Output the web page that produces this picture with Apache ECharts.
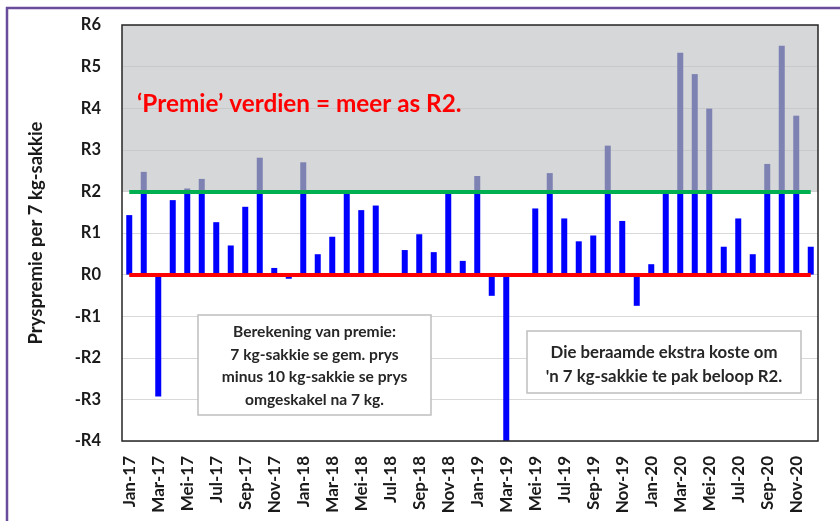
<!DOCTYPE html>
<html>
<head>
<meta charset="utf-8">
<script src="https://cdn.jsdelivr.net/npm/echarts@6/dist/echarts.min.js"></script>
<style>
html,body{margin:0;padding:0;background:#fff;}
#chart{width:840px;height:521px;}
</style>
</head>
<body>
<div id="chart"></div>
<script>
const months = ['Jan-17','Feb-17','Mar-17','Apr-17','Mei-17','Jun-17','Jul-17','Aug-17','Sep-17','Okt-17','Nov-17','Des-17',
  'Jan-18','Feb-18','Mar-18','Apr-18','Mei-18','Jun-18','Jul-18','Aug-18','Sep-18','Okt-18','Nov-18','Des-18',
  'Jan-19','Feb-19','Mar-19','Apr-19','Mei-19','Jun-19','Jul-19','Aug-19','Sep-19','Okt-19','Nov-19','Des-19',
  'Jan-20','Feb-20','Mar-20','Apr-20','Mei-20','Jun-20','Jul-20','Aug-20','Sep-20','Okt-20','Nov-20','Des-20'];
const premium = [1.43,2.47,-2.93,1.79,2.07,2.30,1.26,0.70,1.63,2.81,0.16,-0.10,
  2.70,0.49,0.91,1.94,1.55,1.66,null,0.59,0.97,0.54,1.97,0.33,
  2.37,-0.51,-4.00,null,1.59,2.44,1.35,0.80,0.94,3.10,1.29,-0.75,
  0.25,1.97,5.33,4.82,3.99,0.67,1.35,0.49,2.66,5.50,3.82,0.67];
const threshold = 2;
const yTicks = [-4,-3,-2,-1,0,1,2,3,4,5,6];
const headline = '‘Premie’ verdien = meer as R2.';
const note1 = ['Berekening van premie:','7 kg-sakkie se gem. prys','minus 10 kg-sakkie se prys','omgeskakel na 7 kg.'];
const note2 = ['Die beraamde ekstra koste om',"'n 7 kg-sakkie te pak beloop R2."];

const baseVals = premium.map(v => v === null ? null : Math.min(v, threshold));
const excessVals = premium.map(v => v === null ? null : (v > threshold ? +(v - threshold).toFixed(2) : 0));

const FONT = 'Lato';
const chart = echarts.init(document.getElementById('chart'), null, {renderer:'canvas'});
chart.setOption({
  animation:false,
  backgroundColor:'#fff',
  textStyle:{fontFamily:FONT},
  grid:{left:122,right:22,top:25,bottom:80,containLabel:false},
  xAxis:{
    type:'category', data:months, boundaryGap:true,
    axisLine:{show:false}, axisTick:{show:false},
    axisLabel:{rotate:90, interval:1, margin:15, fontFamily:FONT, fontWeight:'bold', fontSize:17, color:'#1a1a1a'},
    splitLine:{show:false}
  },
  yAxis:{
    type:'value', min:yTicks[0], max:yTicks[yTicks.length-1], interval:1,
    name:'Pryspremie per 7 kg-sakkie', nameLocation:'middle', nameGap:76, nameRotate:90,
    nameTextStyle:{fontFamily:FONT, fontWeight:'bold', fontSize:18.5, color:'#1a1a1a'},
    axisLine:{show:false}, axisTick:{show:false},
    axisLabel:{margin:21, fontFamily:FONT, fontWeight:'bold', fontSize:16.5, color:'#1a1a1a',
      formatter:v => v < 0 ? '-R' + (-v) : 'R' + v},
    splitLine:{lineStyle:{color:'#D9D9D9', width:1}}
  },
  series:[
    {
      name:'base', type:'bar', stack:'p', data:baseVals, barWidth:6,
      itemStyle:{color:'#0000FF'},
      markArea:{silent:true, itemStyle:{color:'rgba(190,191,195,0.63)'},
        data:[[{yAxis:threshold},{yAxis:yTicks[yTicks.length-1]}]]},
      markLine:{silent:true, symbol:'none', label:{show:false},
        data:[
          [{coord:[months[0],0], lineStyle:{color:'#FF0000', width:4, type:'solid'}},{coord:[months[months.length-1],0]}],
          [{coord:[months[0],threshold], lineStyle:{color:'#00B050', width:4, type:'solid'}},{coord:[months[months.length-1],threshold]}]
        ]}
    },
    {
      name:'excess', type:'bar', stack:'p', data:excessVals, barWidth:6,
      itemStyle:{color:'#7E82B2'}
    }
  ],
  graphic:[
    {type:'line', shape:{x1:6,y1:8,x2:840,y2:8}, style:{stroke:'#6A4C9C', lineWidth:2.5}, z:100},
    {type:'line', shape:{x1:7,y1:7,x2:7,y2:521}, style:{stroke:'#6A4C9C', lineWidth:2.5}, z:100},
    {type:'rect', shape:{x:122,y:25,width:696,height:416}, style:{fill:'none', stroke:'#262626', lineWidth:1.5}, z:100},
    {type:'text', left:137, top:92, z:100, style:{text:headline, fill:'#FF0000', font:'bold 24.3px '+FONT}},
    {type:'rect', shape:{x:198,y:315,width:233,height:100}, style:{fill:'#fff', stroke:'#BFBFBF', lineWidth:1.5}, z:100},
    {type:'text', x:314.5, y:366, z:101, style:{text:note1.join('\n'), fill:'#262626', font:'bold 15.6px '+FONT, align:'center', verticalAlign:'middle', lineHeight:22.5}},
    {type:'rect', shape:{x:527,y:331,width:274,height:62}, style:{fill:'#fff', stroke:'#BFBFBF', lineWidth:1.5}, z:100},
    {type:'text', x:664, y:365, z:101, style:{text:note2.join('\n'), fill:'#262626', font:'bold 16.8px '+FONT, align:'center', verticalAlign:'middle', lineHeight:24}}
  ]
});
</script>
</body>
</html>
